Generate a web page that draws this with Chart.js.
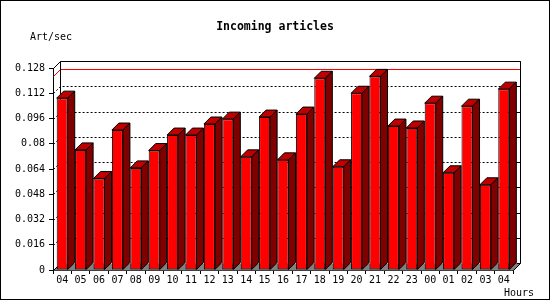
<!DOCTYPE html>
<html>
<head>
<meta charset="utf-8">
<script src="https://cdn.jsdelivr.net/npm/chart.js@4"></script>
<style>
html, body { margin: 0; padding: 0; background: #fff; }
</style>
</head>
<body>
<canvas id="artChart" width="550" height="300"></canvas>
<script>
const hours = ["04", "05", "06", "07", "08", "09", "10", "11", "12", "13", "14", "15",
    "16", "17", "18", "19", "20", "21", "22", "23", "00", "01", "02", "03", "04"];

const artPerSec = [0.1089, 0.0761, 0.0580, 0.0887, 0.0647, 0.0757, 0.0855, 0.0855,
    0.0925, 0.0956, 0.0717, 0.0969, 0.0698, 0.0988, 0.1215, 0.0654, 0.1120, 0.1227,
    0.0912, 0.0900, 0.1057, 0.0616, 0.1038, 0.0540, 0.1146];

const yTicks = [0, 0.016, 0.032, 0.048, 0.064, 0.08, 0.096, 0.112, 0.128];

const yUnit = "Art/sec";
const xUnit = "Hours";

const DEPTH = 7;
const MONO = "'DejaVu Sans Mono', monospace";

// pixel helper, crisp 1px lines
const px = v => Math.round(v) + 0.5;

function poly(ctx, pts, fill) {
    ctx.beginPath();
    ctx.moveTo(pts[0][0], pts[0][1]);
    for (let i = 1; i < pts.length; i++)
        ctx.lineTo(pts[i][0], pts[i][1]);
    ctx.closePath();
    if (fill) {
        ctx.fillStyle = fill;
        ctx.fill();
    }
    ctx.stroke();
}

const threeD = {

    id: "threeD",

    beforeDatasetsDraw(chart) {
        const ctx = chart.ctx;
        const a = chart.chartArea;
        const ys = chart.scales.y;
        const L = px(a.left), R = px(a.right), T = px(a.top), B = px(a.bottom);

        ctx.save();
        ctx.lineWidth = 1;

        // floor
        ctx.fillStyle = "#808080";
        ctx.beginPath();
        ctx.moveTo(L, B);
        ctx.lineTo(L + DEPTH, B - DEPTH);
        ctx.lineTo(R + DEPTH, B - DEPTH);
        ctx.lineTo(R, B);
        ctx.closePath();
        ctx.fill();

        // dashed grid on the back wall
        ctx.strokeStyle = "#000";
        ctx.setLineDash([2, 2]);
        yTicks.slice(1, -1).forEach(v => {
            const py = px(ys.getPixelForValue(v));
            ctx.beginPath();
            ctx.moveTo(L, py);
            ctx.lineTo(L + DEPTH, py - DEPTH);
            ctx.lineTo(R + DEPTH, py - DEPTH);
            ctx.stroke();
        });
        ctx.setLineDash([]);

        // max line
        const my = px(ys.getPixelForValue(Math.max(...artPerSec)));
        ctx.strokeStyle = "#ff0000";
        ctx.beginPath();
        ctx.moveTo(L, my);
        ctx.lineTo(L + DEPTH, my - DEPTH);
        ctx.lineTo(R + DEPTH, my - DEPTH);
        ctx.stroke();

        // back box
        ctx.strokeStyle = "#000";
        ctx.beginPath();
        ctx.moveTo(L, T);
        ctx.lineTo(L + DEPTH, T - DEPTH);
        ctx.lineTo(R + DEPTH, T - DEPTH);
        ctx.lineTo(R + DEPTH, B - DEPTH);
        ctx.lineTo(R, B);
        ctx.moveTo(L + DEPTH, T - DEPTH);
        ctx.lineTo(L + DEPTH, B - DEPTH);
        ctx.lineTo(L, B);
        ctx.stroke();

        // ticks on the right wall
        yTicks.forEach(v => {
            const py = px(ys.getPixelForValue(v)) - DEPTH;
            ctx.beginPath();
            ctx.moveTo(R + DEPTH - 4, py);
            ctx.lineTo(R + DEPTH, py);
            ctx.stroke();
        });

        ctx.restore();
    },

    afterDatasetsDraw(chart) {
        const ctx = chart.ctx;
        const meta = chart.getDatasetMeta(0);

        ctx.save();
        ctx.lineWidth = 1;
        ctx.strokeStyle = "#000";

        meta.data.forEach(bar => {
            const p = bar.getProps(["x", "y", "base", "width"], true);
            const l = p.x - p.width / 2;
            const r = p.x + p.width / 2;
            const t = p.y;
            const b = p.base;

            poly(ctx, [[l, t], [l + DEPTH, t - DEPTH], [r + DEPTH, t - DEPTH], [r, t]], "#c00000");
            poly(ctx, [[r, t], [r + DEPTH, t - DEPTH], [r + DEPTH, b - DEPTH], [r, b]], "#800000");
        });

        ctx.restore();
    },

    afterDraw(chart) {
        const ctx = chart.ctx;
        ctx.save();
        ctx.fillStyle = "#000";
        ctx.font = "10px " + MONO;
        ctx.textBaseline = "alphabetic";
        ctx.textAlign = "left";
        ctx.fillText(yUnit, 30, 40);
        ctx.fillText(xUnit, 504, 296);

        // frame
        ctx.strokeStyle = "#000";
        ctx.lineWidth = 1;
        ctx.strokeRect(0.5, 0.5, 549, 299);
        ctx.restore();
    }

};

Chart.defaults.color = "#000";
Chart.defaults.font.family = MONO;
Chart.defaults.font.size = 10;

const ctx = document.getElementById("artChart").getContext("2d");

const chart = new Chart(ctx, {

    type: "bar",

    data: {
        labels: hours,
        datasets: [
            {
                label: "Incoming articles",
                data: artPerSec,
                backgroundColor: "#ff0000",
                borderColor: "#000",
                borderWidth: 1,
                borderSkipped: false,
                barPercentage: 0.6,
                categoryPercentage: 1.0
            }
        ]
    },

    options: {
        responsive: false,
        animation: false,
        devicePixelRatio: 1,
        layout: {
            padding: 0
        },
        plugins: {
            legend: { display: false },
            tooltip: { enabled: false },
            title: {
                display: true,
                text: "Incoming articles",
                color: "#000",
                font: { family: MONO, size: 11.5, weight: "bold", lineHeight: 1.2 },
                padding: { top: 20, bottom: 34.2 }
            }
        },
        scales: {
            x: {
                offset: true,
                grid: {
                    offset: true,
                    drawOnChartArea: false,
                    drawTicks: true,
                    tickLength: 4,
                    color: "#000"
                },
                border: { display: true, color: "#000" },
                ticks: {
                    padding: 0,
                    maxRotation: 0,
                    autoSkip: false,
                    font: { family: MONO, size: 10 }
                },
                afterFit(s) {
                    s.height = 30;
                    s.paddingLeft = 0;
                    s.paddingRight = 0;
                }
            },
            y: {
                min: 0,
                max: 0.128,
                afterBuildTicks(s) {
                    s.ticks = yTicks.map(v => ({ value: v }));
                },
                grid: {
                    drawOnChartArea: false,
                    drawTicks: true,
                    tickLength: 4,
                    color: "#000"
                },
                border: { display: true, color: "#000" },
                ticks: {
                    padding: 4,
                    font: { family: MONO, size: 10 },
                    callback: v => String(+v.toFixed(3))
                },
                afterFit(s) {
                    s.width = 53;
                    s.paddingTop = 0;
                    s.paddingBottom = 0;
                }
            },
            yRight: {
                position: "right",
                display: true,
                grid: { display: false },
                border: { display: false },
                ticks: { display: false },
                afterFit(s) {
                    s.width = 37;
                    s.paddingTop = 0;
                    s.paddingBottom = 0;
                }
            }
        }
    },

    plugins: [threeD]

});
</script>
</body>
</html>
